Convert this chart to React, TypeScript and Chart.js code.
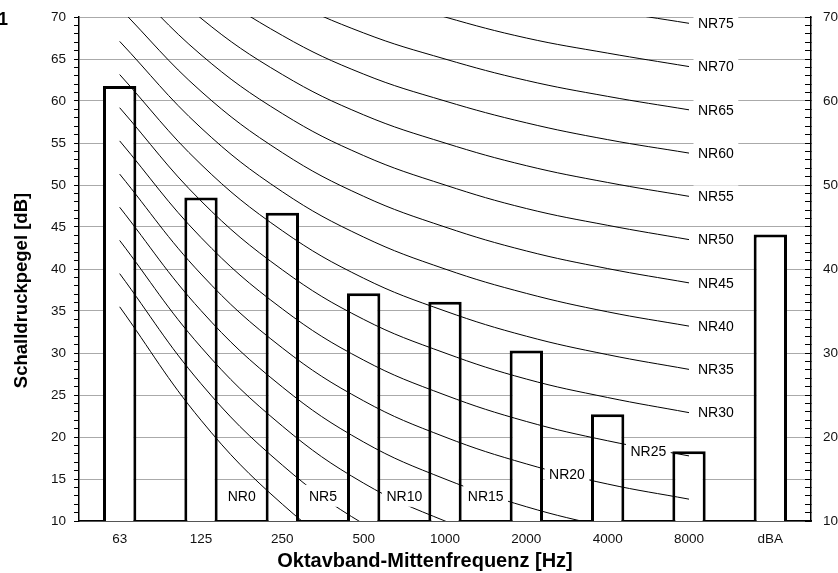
import React, { useEffect, useRef } from 'react';
import { Chart, registerables } from 'chart.js';

Chart.register(...registerables);

// Octave-band categories and measured sound pressure levels
const categories = ['63', '125', '250', '500', '1000', '2000', '4000', '8000', 'dBA'];
const measured = [61.8, 48.5, 46.7, 37.1, 36.1, 30.3, 22.7, 18.3, 44.1];

// NR curves (values at 63 ... 8000 Hz)
const nr0 = [35.5, 22.0, 12.0, 4.8, 0, -3.5, -6.1, -8.0];
const nr5 = [39.45, 26.35, 16.65, 9.65, 5, 1.55, -0.95, -2.85];
const nr10 = [43.4, 30.7, 21.3, 14.5, 10, 6.6, 4.2, 2.3];
const nr15 = [47.35, 35.05, 25.95, 19.4, 15, 11.7, 9.3, 7.45];
const nr20 = [51.3, 39.4, 30.6, 24.3, 20, 16.8, 14.4, 12.6];
const nr25 = [55.25, 43.75, 35.25, 29.15, 25, 21.85, 19.55, 17.75];
const nr30 = [59.2, 48.1, 39.9, 34.0, 30, 26.9, 24.7, 22.9];
const nr35 = [63.15, 52.45, 44.55, 38.9, 35, 32.0, 29.8, 28.05];
const nr40 = [67.1, 56.8, 49.2, 43.8, 40, 37.1, 34.9, 33.2];
const nr45 = [71.05, 61.15, 53.85, 48.65, 45, 42.15, 40.05, 38.35];
const nr50 = [75.0, 65.5, 58.5, 53.5, 50, 47.2, 45.2, 43.5];
const nr55 = [78.95, 69.85, 63.15, 58.35, 55, 52.3, 50.3, 48.65];
const nr60 = [82.9, 74.2, 67.8, 63.2, 60, 57.4, 55.4, 53.8];
const nr65 = [86.85, 78.55, 72.45, 68.1, 65, 62.45, 60.55, 58.95];
const nr70 = [90.8, 82.9, 77.1, 73.0, 70, 67.5, 65.7, 64.1];
const nr75 = [94.75, 87.25, 81.75, 77.85, 75, 72.6, 70.8, 69.25];

const nrNames = ['NR0', 'NR5', 'NR10', 'NR15', 'NR20', 'NR25', 'NR30', 'NR35', 'NR40', 'NR45', 'NR50', 'NR55', 'NR60', 'NR65', 'NR70', 'NR75'];
const nrCurves = [nr0, nr5, nr10, nr15, nr20, nr25, nr30, nr35, nr40, nr45, nr50, nr55, nr60, nr65, nr70, nr75];

// Label anchors for the lower curves (band index position, level in dB)
const lowLabelAt = [1.5, 2.5, 3.5, 4.5, 5.5, 6.5];
const lowLabelLevel = [13, 13, 13, 13, 15.6, 18.3];

const yMin = 10;
const yMax = 70;

const FONT = '"Liberation Sans", Arial, Helvetica, sans-serif';

const labelPlugin = {
  id: 'nrLabels',
  afterDatasetsDraw(chart: any) {
    const { ctx, scales } = chart;
    const x = scales.x;
    const y = scales.y;
    ctx.save();
    ctx.font = `14px ${FONT}`;
    ctx.textBaseline = 'middle';
    ctx.textAlign = 'left';
    nrNames.forEach((name, i) => {
      const w = ctx.measureText(name).width;
      let left: number;
      let cy: number;
      if (i < lowLabelAt.length) {
        const p = lowLabelAt[i];
        const a = Math.floor(p);
        const x0 = x.getPixelForValue(a);
        const x1 = x.getPixelForValue(a + 1);
        const cx = x0 + (x1 - x0) * (p - a);
        cy = y.getPixelForValue(lowLabelLevel[i]);
        left = cx - w / 2;
      } else {
        const curve = nrCurves[i];
        const last = curve.length - 1;
        left = x.getPixelForValue(last) + 9;
        cy = y.getPixelForValue(curve[last]);
      }
      ctx.fillStyle = '#ffffff';
      ctx.fillRect(left - 4.5, cy - 11, w + 9, 22);
      ctx.fillStyle = '#000000';
      ctx.fillText(name, left, cy + 1);
    });
    ctx.restore();
  },
  afterDraw(chart: any) {
    const { ctx } = chart;
    ctx.save();
    ctx.fillStyle = '#000';
    // figure number
    ctx.font = `bold 18px ${FONT}`;
    ctx.textAlign = 'left';
    ctx.textBaseline = 'alphabetic';
    ctx.fillText('1', -2, 25);
    // x title
    ctx.font = `bold 20px ${FONT}`;
    ctx.textAlign = 'center';
    ctx.fillText('Oktavband-Mittenfrequenz [Hz]', 425, 567);
    // y title
    ctx.translate(27, 290.5);
    ctx.rotate(-Math.PI / 2);
    ctx.font = `bold 18.5px ${FONT}`;
    ctx.textAlign = 'center';
    ctx.fillText('Schalldruckpegel [dB]', 0, 0);
    ctx.restore();
  },
};

export default function App() {
  const ref = useRef<HTMLCanvasElement | null>(null);

  useEffect(() => {
    if (!ref.current) return;
    const lineSets = nrCurves.map((c, i) => ({
      type: 'line' as const,
      label: nrNames[i],
      data: c,
      borderColor: '#000',
      borderWidth: 1,
      pointRadius: 0,
      tension: 0.4,
      fill: false,
      order: 0,
    }));
    const chart = new Chart(ref.current, {
      type: 'bar',
      data: {
        labels: categories,
        datasets: [
          {
            type: 'bar' as const,
            label: 'Messung',
            data: measured,
            backgroundColor: '#ffffff',
            borderColor: '#000000',
            borderWidth: 3,
            barPercentage: 0.41,
            categoryPercentage: 1,
            clip: 0,
            order: 1,
          } as any,
          ...lineSets,
        ],
      },
      options: {
        responsive: false,
        animation: false,
        layout: { padding: { top: 17, left: 0, right: 0, bottom: 0 } },
        plugins: {
          legend: { display: false },
          tooltip: { enabled: false },
        },
        scales: {
          x: {
            type: 'category',
            offset: true,
            grid: { display: false, drawTicks: false },
            border: { display: true, color: '#000', width: 1.5 },
            ticks: { color: '#111', font: { family: FONT, size: 13.5 }, padding: 10 },
            afterFit: (s: any) => { s.height = 52; },
          },
          y: {
            min: yMin,
            max: yMax,
            position: 'left',
            ticks: {
              stepSize: 1,
              autoSkip: false,
              color: '#111',
              font: { family: FONT, size: 13.5 },
              padding: 8,
              callback: (v: any) => (Number(v) % 5 === 0 ? String(v) : ''),
            },
            grid: {
              color: (c: any) => (c.tick && c.tick.value % 5 === 0 ? '#aaaaaa' : 'rgba(0,0,0,0)'),
              tickColor: '#000',
              tickLength: 5,
              lineWidth: 1,
            },
            border: { display: true, color: '#000', width: 1.5 },
            afterFit: (s: any) => { s.width = 79; s.paddingTop = 0; s.paddingBottom = 0; },
          },
          y2: {
            min: yMin,
            max: yMax,
            position: 'right',
            ticks: {
              stepSize: 1,
              autoSkip: false,
              color: '#111',
              font: { family: FONT, size: 13.5 },
              padding: 18,
              callback: (v: any) => (Number(v) % 10 === 0 ? String(v) : ''),
            },
            grid: {
              drawOnChartArea: false,
              tickColor: '#000',
              tickLength: -6,
              lineWidth: 1,
            },
            border: { display: true, color: '#000', width: 1.5 },
            afterFit: (s: any) => { s.width = 27; s.paddingTop = 0; s.paddingBottom = 0; },
          },
        },
      } as any,
      plugins: [labelPlugin],
    });
    return () => chart.destroy();
  }, []);

  return (
    <div style={{ position: 'absolute', left: 0, top: 0, width: 838, height: 573, background: '#fff' }}>
      <canvas ref={ref} width={838} height={573} style={{ display: 'block' }} />
    </div>
  );
}
